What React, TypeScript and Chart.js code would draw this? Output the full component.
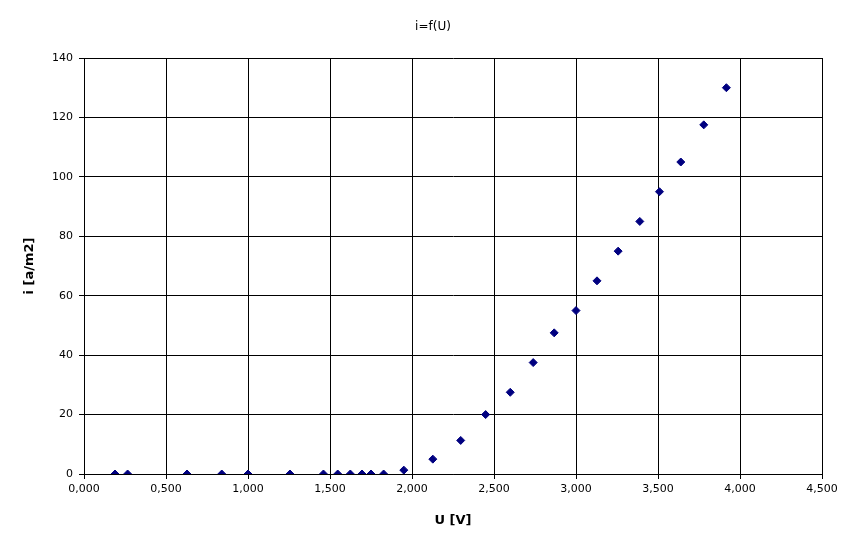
import React, { useEffect, useRef } from "react";
import { Chart, registerables } from "chart.js";

Chart.register(...registerables);

const voltage = [0.189, 0.266, 0.628, 0.84, 1.0, 1.256, 1.46, 1.547, 1.624, 1.695, 1.75, 1.827, 1.95, 2.127, 2.297, 2.449, 2.599, 2.739, 2.867, 3.0, 3.128, 3.257, 3.389, 3.509, 3.639, 3.779, 3.917];
const current = [0, 0, 0, 0, 0, 0, 0, 0, 0, 0, 0, 0, 1.3, 5, 11.3, 20, 27.5, 37.5, 47.5, 55, 65, 75, 85, 95, 105, 117.5, 130];

const chartTitle = "i=f(U)";
const xTitle = "U [V]";
const yTitle = "i [a/m2]";

export default function App() {
  const ref = useRef<HTMLCanvasElement | null>(null);
  useEffect(() => {
    document.body.style.margin = "0";
    if (!ref.current) return;
    const font = "'DejaVu Sans', sans-serif";
    const chart = new Chart(ref.current, {
      type: "scatter",
      data: {
        datasets: [
          {
            data: voltage.map((u, k) => ({ x: u, y: current[k] })),
            pointStyle: "rectRot",
            pointRadius: 4,
            pointBackgroundColor: "#000080",
            pointBorderColor: "#000080",
            pointBorderWidth: 1,
            showLine: false,
          },
        ],
      },
      options: {
        animation: false,
        responsive: false,
        layout: { padding: { left: 0, right: 0, top: 0, bottom: 0 } },
        plugins: {
          legend: { display: false },
          tooltip: { enabled: false },
          title: {
            display: true,
            text: chartTitle,
            color: "#000",
            font: { family: font, size: 12, weight: "normal" },
            padding: { top: 20, bottom: 23.6 },
          },
        },
        scales: {
          x: {
            type: "linear",
            min: 0,
            max: 4.5,
            afterFit: (s: any) => {
              s.height = 74;
            },
            ticks: {
              stepSize: 0.5,
              color: "#000",
              padding: 4,
              maxRotation: 0,
              font: { family: font, size: 11 },
              callback: (v: any) => Number(v).toFixed(3).replace(".", ","),
            },
            grid: { color: "#000", lineWidth: 1, tickLength: 5 },
            border: { color: "#000", width: 1 },
            title: {
              display: true,
              text: xTitle,
              color: "#000",
              font: { family: font, size: 13, weight: "bold" },
              padding: { top: 0, bottom: 20 },
            },
          },
          y: {
            type: "linear",
            min: 0,
            max: 140,
            afterFit: (s: any) => {
              s.width = 84;
            },
            ticks: {
              stepSize: 20,
              color: "#000",
              padding: 6,
              font: { family: font, size: 11 },
            },
            grid: { color: "#000", lineWidth: 1, tickLength: 5 },
            border: { color: "#000", width: 1 },
            title: {
              display: true,
              text: yTitle,
              color: "#000",
              font: { family: font, size: 13, weight: "bold" },
              padding: { top: 22, bottom: 0 },
            },
          },
          yRight: {
            type: "linear",
            position: "right",
            min: 0,
            max: 140,
            afterFit: (s: any) => {
              s.width = 44;
            },
            ticks: { display: false },
            grid: { display: false, drawTicks: false },
            border: { display: false },
          },
        },
      },
    });
    return () => chart.destroy();
  }, []);
  return (
    <div style={{ width: 866, height: 548, background: "#fff" }}>
      <canvas ref={ref} width={866} height={548} style={{ display: "block" }} />
    </div>
  );
}
